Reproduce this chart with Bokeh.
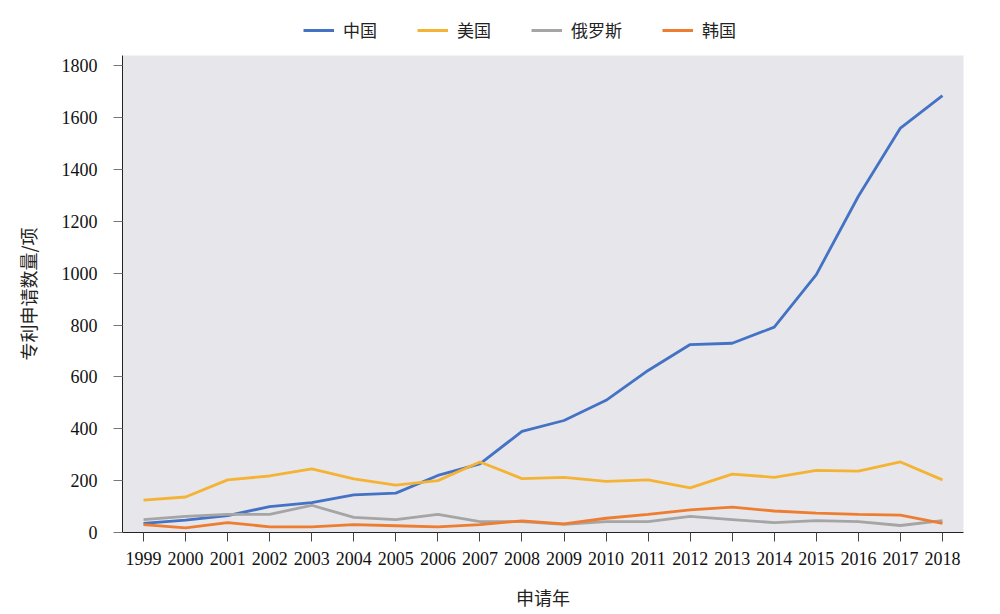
from bokeh.plotting import figure
from bokeh.layouts import column
from bokeh.models import ColumnDataSource, Legend, LegendItem, FixedTicker, Range1d
from bokeh.embed import file_html
from bokeh.resources import INLINE

years = list(range(1999, 2019))
china = [35, 48, 65, 100, 115, 145, 152, 220, 265, 390, 432, 510, 625, 725, 730, 792, 995, 1297, 1560, 1685]
usa = [125, 137, 203, 218, 245, 207, 183, 200, 272, 208, 213, 197, 203, 172, 225, 213, 240, 237, 272, 203]
russia = [50, 62, 70, 70, 105, 58, 50, 70, 42, 42, 31, 42, 42, 62, 50, 38, 46, 42, 27, 46]
korea = [30, 18, 38, 22, 22, 30, 26, 22, 30, 45, 33, 55, 70, 87, 98, 83, 75, 70, 67, 35]

names = ["中国", "美国", "俄罗斯", "韩国"]
colors = ["#4472C4", "#F5B335", "#A5A5A5", "#ED7D31"]
series = [china, usa, russia, korea]
y_ticks = list(range(0, 1801, 200))

# Legend strip on top (its data lie outside its own range, so only the legend shows)
lg = figure(width=1000, height=48, output_backend="svg", toolbar_location=None,
            x_range=Range1d(0, 1), y_range=Range1d(0, 1),
            min_border_left=0, min_border_right=0, min_border_top=0, min_border_bottom=0)
lg.axis.visible = False
lg.grid.visible = False
lg.outline_line_color = None
lg.background_fill_color = "white"

items = []
for name, col in zip(names, colors):
    r = lg.line(x=[5, 6], y=[5, 6], line_color=col, line_width=3)
    items.append(LegendItem(label=name, renderers=[r]))
legend = Legend(items=items, orientation="horizontal", location=(181, 6),
                label_text_font="Noto Sans CJK SC", label_text_font_size="17px",
                label_text_color="#222222", glyph_width=31, glyph_height=18,
                spacing=40, label_standoff=9, background_fill_alpha=0,
                border_line_color=None, padding=0, margin=0)
lg.add_layout(legend, "center")

# Main chart
p = figure(width=1000, height=566, output_backend="svg", toolbar_location=None,
           x_range=Range1d(1998.5, 2018.5), y_range=Range1d(0, 1840),
           min_border_left=122, min_border_right=37, min_border_top=7, min_border_bottom=82)

p.background_fill_color = "#E7E6EA"
p.border_fill_color = "white"
p.outline_line_color = None
p.xgrid.visible = False
p.ygrid.visible = False

for col, vals in zip(colors, series):
    src = ColumnDataSource(dict(x=years, y=vals))
    p.line("x", "y", source=src, line_color=col, line_width=2.8)

p.xaxis.ticker = FixedTicker(ticks=years)
p.xaxis.major_label_text_font = "Liberation Serif"
p.xaxis.major_label_text_font_size = "18px"
p.xaxis.major_label_text_color = "#111111"
p.xaxis.major_tick_out = 9
p.xaxis.major_tick_in = 0
p.xaxis.minor_tick_line_color = None
p.xaxis.axis_line_color = "#222222"
p.xaxis.major_tick_line_color = "#444444"
p.xaxis.major_label_standoff = 10
p.xaxis.axis_label = "申请年"
p.xaxis.axis_label_text_font = "Noto Sans CJK SC"
p.xaxis.axis_label_text_font_size = "18px"
p.xaxis.axis_label_text_font_style = "normal"
p.xaxis.axis_label_text_color = "#222222"
p.xaxis.axis_label_standoff = 16

p.yaxis.ticker = FixedTicker(ticks=y_ticks)
p.yaxis.major_label_text_font = "Liberation Serif"
p.yaxis.major_label_text_font_size = "18px"
p.yaxis.major_label_text_color = "#111111"
p.yaxis.major_tick_out = 9
p.yaxis.major_tick_in = 0
p.yaxis.minor_tick_line_color = None
p.yaxis.axis_line_color = "#222222"
p.yaxis.major_tick_line_color = "#777777"
p.yaxis.major_label_standoff = 16
p.yaxis.axis_label = "专利申请数量/项"
p.yaxis.axis_label_text_font = "Noto Sans CJK SC"
p.yaxis.axis_label_text_font_size = "18px"
p.yaxis.axis_label_text_font_style = "normal"
p.yaxis.axis_label_text_color = "#222222"
p.yaxis.axis_label_standoff = 18

layout = column(lg, p, spacing=0)
open("out.html", "w").write(file_html(layout, INLINE))
